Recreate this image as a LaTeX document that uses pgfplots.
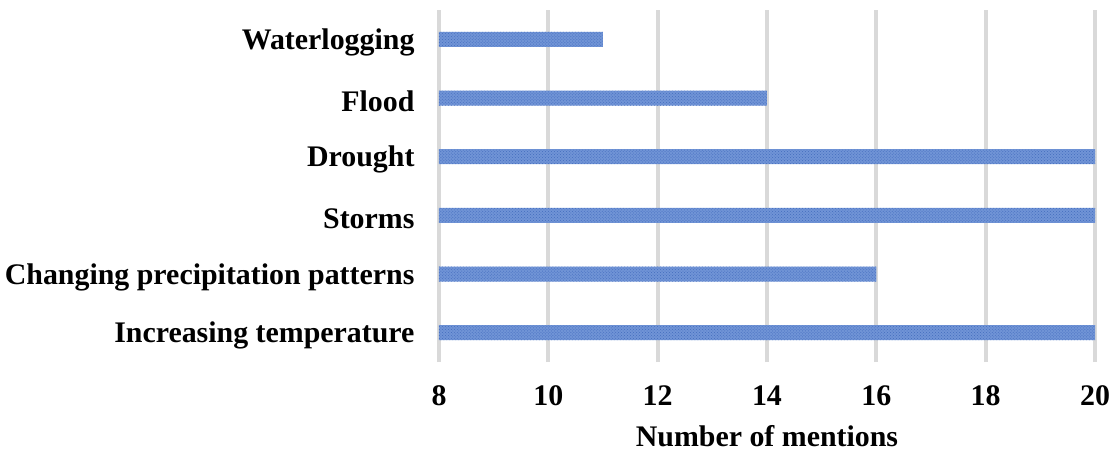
\documentclass[border=0pt]{standalone}
\usepackage{fontspec}
\setmainfont{Liberation Serif}
\usepackage{pgfplots}
\pgfplotsset{compat=1.18}
\usetikzlibrary{patterns}
\definecolor{barblue}{RGB}{112,148,214}
\definecolor{bardark}{RGB}{68,108,190}
\definecolor{gridgray}{RGB}{217,217,217}
\begin{document}
\begin{tikzpicture}[x=1bp,y=1bp]
\begin{axis}[
    at={(0,0)}, anchor=south west,
    scale only axis,
    width=656bp, height=352bp,
    xbar, bar width=15bp, bar shift=0pt,
    xmin=8, xmax=20, xtick={8,10,...,20},
    ymin=-0.5, ymax=5.5,
    ytick={0,1,2,3,4,5},
    yticklabels={Increasing temperature, Changing precipitation patterns, Storms, Drought, Flood, Waterlogging},
    axis line style={draw=none},
    major tick length=0pt,
    xmajorgrids, ymajorgrids=false,
    major grid style={gridgray, line width=4bp},
    /pgf/number format/assume math mode=true,
    ticklabel style={font=\fontsize{30}{35}\selectfont\bfseries},
    xticklabel style={yshift=-20bp},
    yticklabel style={xshift=-21bp, yshift=-3bp},
    xlabel={Number of mentions},
    xlabel style={font=\fontsize{30}{35}\selectfont\bfseries, yshift=-13bp},
]
\addplot[draw=none, fill=barblue, postaction={pattern=crosshatch dots, pattern color=bardark}] coordinates {
    (20,0) (16,1) (20,2) (20,3) (14,4) (11,5)
};
\end{axis}
\pgfresetboundingbox
\useasboundingbox (-439bp,-90bp) rectangle (674bp,362bp);
\end{tikzpicture}
\end{document}
